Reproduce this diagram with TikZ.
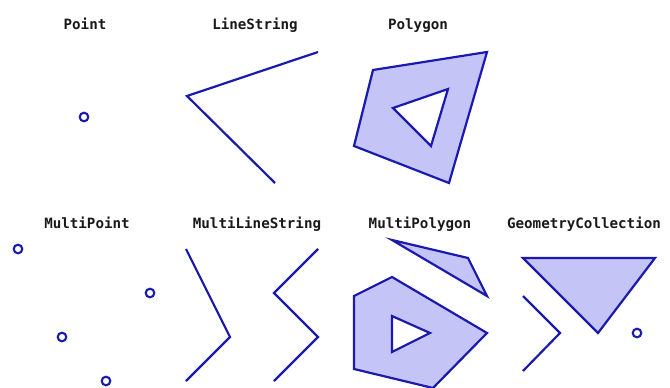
\documentclass[tikz,border=0pt]{standalone}
\usepackage{fontspec}
\setmonofont{DejaVu Sans Mono}
\begin{document}
\begin{tikzpicture}[x=1pt,y=-1pt,
  geomline/.style={draw=geomblue,line width=2.2pt,line join=miter},
  geomfill/.style={geomline,fill=geomfillc,even odd rule},
  geompt/.style={circle,draw=geomblue,line width=2.1pt,minimum size=8.6pt,inner sep=0pt},
  title/.style={font=\ttfamily\bfseries\fontsize{14.2}{16}\selectfont,text=black!90,inner sep=0pt,anchor=base}]
\definecolor{geomblue}{HTML}{1A1AAE}
\definecolor{geomfillc}{HTML}{C4C4F6}
\useasboundingbox (0,0) rectangle (670,388);

% titles
\node[title] (tPoint) at (85,30) {Point};
\node[title] (tLine) at (255,30) {LineString};
\node[title] (tPoly) at (418,30) {Polygon};
\node[title] (tMPoint) at (87,228) {MultiPoint};
\node[title] (tMLine) at (257,228) {MultiLineString};
\node[title] (tMPoly) at (420,228) {MultiPolygon};
\node[title] (tGC) at (584,228) {GeometryCollection};

% Point
\node[geompt] (p0) at (84,117) {};

% LineString
\draw[geomline] (318,52) -- (187,96) -- (275,183);

% Polygon with a hole
\draw[geomfill] (487,52) -- (373,70) -- (354,146) -- (449,183) -- cycle
                (448,89) -- (393,108) -- (431,146) -- cycle;

% MultiPoint
\node[geompt] (mp1) at (18,249) {};
\node[geompt] (mp2) at (150,293) {};
\node[geompt] (mp3) at (62,337) {};
\node[geompt] (mp4) at (106,381) {};

% MultiLineString
\draw[geomline] (186,249) -- (230,337) -- (186,381);
\draw[geomline] (318,249) -- (274,293) -- (318,337) -- (274,381);

% MultiPolygon
\draw[geomfill] (392,240) -- (468,258) -- (487,296) -- cycle;
\draw[geomfill] (392,277) -- (354,296) -- (354,369) -- (433,388) -- (487,333) -- cycle
                (392,316) -- (430,333) -- (392,352) -- cycle;

% GeometryCollection
\draw[geomfill] (523,258) -- (655,258) -- (598,333) -- cycle;
\draw[geomline] (523,296) -- (560,333) -- (523,371);
\node[geompt] (gcp) at (637,333) {};
\end{tikzpicture}
\end{document}
